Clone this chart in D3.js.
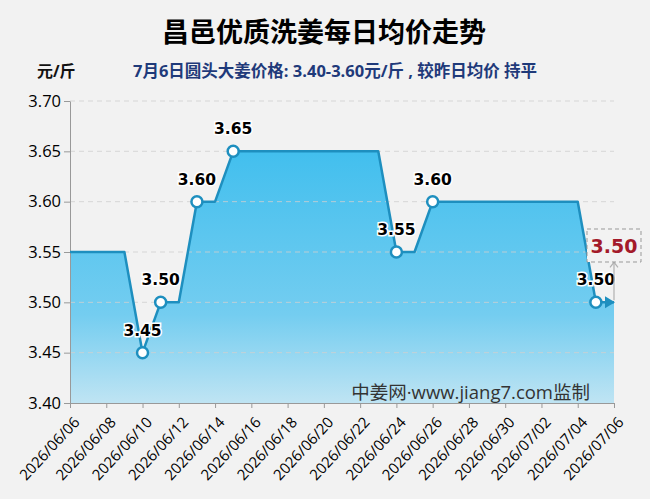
<!DOCTYPE html>
<html>
<head>
<meta charset="utf-8">
<script src="https://cdn.jsdelivr.net/npm/d3@7"></script>
<style>
body { margin: 0; background: #f2f2f2; }
svg { display: block; font-family: "Open Sans", "Noto Sans CJK SC", sans-serif; }
</style>
</head>
<body>
<script>
// daily prices 2026/06/06 - 2026/07/06
var dates = ["2026/06/06","2026/06/07","2026/06/08","2026/06/09","2026/06/10","2026/06/11","2026/06/12",
	"2026/06/13","2026/06/14","2026/06/15","2026/06/16","2026/06/17","2026/06/18","2026/06/19","2026/06/20",
	"2026/06/21","2026/06/22","2026/06/23","2026/06/24","2026/06/25","2026/06/26","2026/06/27","2026/06/28",
	"2026/06/29","2026/06/30","2026/07/01","2026/07/02","2026/07/03","2026/07/04","2026/07/05","2026/07/06"];
var prices = [3.55,3.55,3.55,3.55,3.45,3.50,3.50,
	3.60,3.60,3.65,3.65,3.65,3.65,3.65,3.65,
	3.65,3.65,3.65,3.55,3.55,3.60,3.60,3.60,
	3.60,3.60,3.60,3.60,3.60,3.60,3.50,3.50];
var markedDates = ["2026/06/10","2026/06/11","2026/06/13","2026/06/15","2026/06/24","2026/06/26","2026/07/05"];
var yTicks = [3.40,3.45,3.50,3.55,3.60,3.65,3.70];
var xTickLabels = ["2026/06/06","2026/06/08","2026/06/10","2026/06/12","2026/06/14","2026/06/16","2026/06/18",
	"2026/06/20","2026/06/22","2026/06/24","2026/06/26","2026/06/28","2026/06/30","2026/07/02","2026/07/04","2026/07/06"];
var latest = 3.50;

function main(){
	var w = 650, h = 499;
	var mLeft = 70, mRight = 614, mTop = 101, mBottom = 403;
	var parse = d3.timeParse("%Y/%m/%d");
	var fmt = d3.timeFormat("%Y/%m/%d");

	var data = dates.map(function(d, i){ return {date: parse(d), value: prices[i]}; });

	var svg = d3.select("body").append("svg").attr("width", w).attr("height", h);

	var x = d3.scaleTime().domain([parse(dates[0]), parse(dates[dates.length-1])]).range([mLeft, mRight]);
	var y = d3.scaleLinear().domain([3.40, 3.70]).range([mBottom, mTop]);

	var defs = svg.append("defs");
	var grad = defs.append("linearGradient").attr("id", "fillGrad")
		.attr("gradientUnits", "userSpaceOnUse")
		.attr("x1", 0).attr("x2", 0)
		.attr("y1", y(3.65)).attr("y2", mBottom);
	grad.append("stop").attr("offset", "0%").attr("stop-color", "#42bfee");
	grad.append("stop").attr("offset", "65%").attr("stop-color", "#74cdf0");
	grad.append("stop").attr("offset", "100%").attr("stop-color", "#bfe4f3");

	defs.append("marker").attr("id", "greyArrow")
		.attr("viewBox", "0 0 10 10").attr("refX", 5).attr("refY", 1)
		.attr("markerWidth", 10).attr("markerHeight", 10).attr("markerUnits", "userSpaceOnUse")
		.attr("orient", "0")
		.append("path").attr("d", "M1,6 L5,1 L9,6").attr("fill", "none").attr("stroke", "#b0b0b0").attr("stroke-width", 1.2);

	// area
	svg.append("path").datum(data)
		.attr("d", d3.area().x(function(d){ return x(d.date); }).y0(mBottom).y1(function(d){ return y(d.value); }))
		.attr("fill", "url(#fillGrad)");

	// grid
	svg.append("g").selectAll("line").data(yTicks.slice(1)).enter().append("line")
		.attr("x1", mLeft).attr("x2", mRight)
		.attr("y1", function(d){ return y(d); }).attr("y2", function(d){ return y(d); })
		.attr("stroke", "#d0d0d0").attr("stroke-dasharray", "5,4").attr("stroke-opacity", 0.8);

	// axes
	var yAxis = svg.append("g").attr("transform", "translate(" + mLeft + ",0)")
		.call(d3.axisLeft(y).tickValues(yTicks).tickFormat(d3.format(".2f")).tickSize(6).tickSizeOuter(0));
	yAxis.select(".domain").attr("stroke", "#999");
	yAxis.selectAll(".tick line").attr("stroke", "#999");
	yAxis.selectAll("text").attr("font-size", 16.5).attr("fill", "#000").attr("x", -9)
		.attr("font-family", "Open Sans");

	var xAxis = svg.append("g").attr("transform", "translate(0," + mBottom + ")")
		.call(d3.axisBottom(x).tickValues(xTickLabels.map(parse)).tickFormat(fmt).tickSize(5).tickSizeOuter(0));
	xAxis.select(".domain").attr("stroke", "#999");
	xAxis.selectAll(".tick line").attr("stroke", "#999");
	xAxis.selectAll("text").attr("font-size", 15).attr("fill", "#000")
		.attr("font-family", "Open Sans")
		.attr("text-anchor", "end").attr("dy", 0).attr("y", 0)
		.attr("transform", "translate(10,20) rotate(-47)");

	// line
	var lineColor = "#1e8fbf";
	svg.append("path").datum(data)
		.attr("d", d3.line().x(function(d){ return x(d.date); }).y(function(d){ return y(d.value); }))
		.attr("fill", "none").attr("stroke", lineColor).attr("stroke-width", 2.5).attr("stroke-linejoin", "round");

	// end arrow at last point
	var last = data[data.length-1];
	var lx = x(last.date), ly = y(last.value);
	svg.append("path")
		.attr("d", "M" + (lx - 9) + "," + (ly - 6) + " L" + (lx + 1) + "," + ly + " L" + (lx - 9) + "," + (ly + 6) + "Z")
		.attr("fill", lineColor);

	// markers
	var marked = data.filter(function(d){ return markedDates.indexOf(fmt(d.date)) >= 0; });
	svg.append("g").selectAll("circle").data(marked).enter().append("circle")
		.attr("cx", function(d){ return x(d.date); }).attr("cy", function(d){ return y(d.value); })
		.attr("r", 5.5).attr("fill", "#fff").attr("stroke", lineColor).attr("stroke-width", 2.5);

	svg.append("g").selectAll("text").data(marked).enter().append("text")
		.attr("x", function(d){ return x(d.date); }).attr("y", function(d){ return y(d.value) - 17; })
		.attr("text-anchor", "middle").attr("font-size", 15.5).attr("font-weight", "bold")
		.attr("font-family", "DejaVu Sans")
		.attr("fill", "#000").attr("stroke", "#fff").attr("stroke-width", 3).attr("paint-order", "stroke")
		.text(function(d){ return d3.format(".2f")(d.value); });

	// latest value callout
	svg.append("line")
		.attr("x1", mRight).attr("x2", mRight).attr("y1", y(latest) - 2).attr("y2", y(latest) - 40)
		.attr("stroke", "#b0b0b0").attr("stroke-width", 1.2).attr("marker-end", "url(#greyArrow)");
	svg.append("rect").attr("x", 587).attr("y", 229).attr("width", 54).attr("height", 33)
		.attr("fill", "#f2f2f2").attr("stroke", "#999").attr("stroke-dasharray", "4,3");
	svg.append("text").attr("x", 614).attr("y", 253).attr("text-anchor", "middle")
		.attr("font-size", 19).attr("font-weight", "bold").attr("fill", "#a31a2a")
		.attr("font-family", "DejaVu Sans")
		.text(d3.format(".2f")(latest));

	// watermark
	svg.append("text").attr("x", 590).attr("y", 399).attr("text-anchor", "end")
		.attr("font-size", 18.5).attr("fill", "#333")
		.text("中姜网·www.jiang7.com监制");

	// titles
	svg.append("text").attr("x", 324).attr("y", 42).attr("text-anchor", "middle")
		.attr("font-size", 27).attr("font-weight", "bold").attr("fill", "#000")
		.text("昌邑优质洗姜每日均价走势");
	svg.append("text").attr("x", 37).attr("y", 77)
		.attr("font-size", 16).attr("font-weight", "bold").attr("fill", "#111")
		.text("元/斤");
	svg.append("text").attr("x", 133).attr("y", 77)
		.attr("font-size", 16.5).attr("font-weight", "bold").attr("fill", "#1f3a7a")
		.text("7月6日圆头大姜价格: 3.40-3.60元/斤 , 较昨日均价 持平");
}

main();
</script>
</body>
</html>
